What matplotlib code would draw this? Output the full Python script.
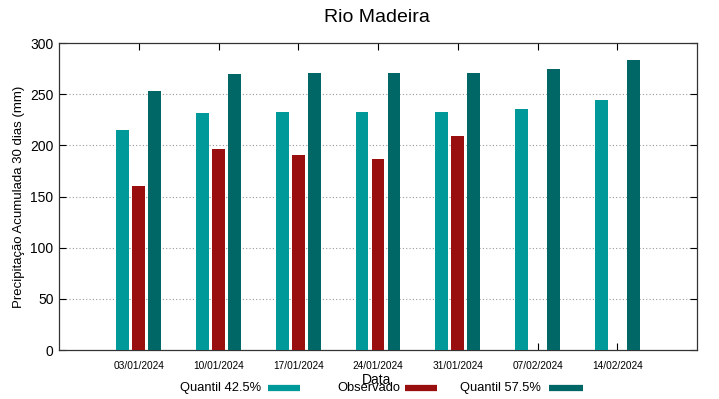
import numpy as np
import matplotlib.pyplot as plt
from matplotlib.lines import Line2D

plt.rcParams['font.family'] = ['Liberation Sans', 'DejaVu Sans']

# weekly dates and 30-day accumulated precipitation (mm)
datas = ["03/01/2024", "10/01/2024", "17/01/2024", "24/01/2024",
         "31/01/2024", "07/02/2024", "14/02/2024"]
quantil_425 = [215, 232, 233, 233, 233, 236, 244]
observado = [160, 196, 191, 187, 209, np.nan, np.nan]
quantil_575 = [253, 270, 271, 271, 271, 275, 283]
series_names = ["Quantil 42.5%", "Observado", "Quantil 57.5%"]

c_q42 = "#009999"
c_obs = "#990f0f"
c_q57 = "#006666"

W, H = 719, 399
fig = plt.figure(figsize=(W / 100, H / 100), dpi=100)
ax = fig.add_axes([0.0821, 0.1228, 0.8873, 0.7694])

x = np.arange(len(datas))
w = 0.16
ax.bar(x - 0.2, quantil_425, w, color=c_q42, zorder=3)
ax.bar(x, observado, w, color=c_obs, zorder=3)
ax.bar(x + 0.2, quantil_575, w, color=c_q57, zorder=3)

ax.set_xlim(-1, 7)
ax.set_ylim(0, 300)
ax.set_yticks(range(0, 301, 50))
ax.set_xticks(x)
ax.set_xticklabels(datas, fontsize=7.3)
ax.tick_params(axis='y', labelsize=10, direction='in', right=True, length=5, pad=4)
ax.tick_params(axis='x', direction='in', top=True, length=5, pad=8)
for yv in range(50, 300, 50):
    ax.axhline(yv, color='#999999', lw=0.8, ls=(0, (1, 2)), zorder=1)
for s in ax.spines.values():
    s.set_linewidth(0.9)
    s.set_color('#333333')

ax.set_ylabel("Precipitação Acumulada 30 dias (mm)", fontsize=9.5, labelpad=4)
fig.text(0.524, 0.038, "Data", ha='center', fontsize=10)
fig.text(0.524, 0.955, "Rio Madeira", ha='center', va='center', fontsize=14)

# gnuplot-like key: text right-aligned, then the colour sample
text_right = [261, 400, 541]
sample_span = [(268, 300), (405, 437), (549, 583)]
ky = 1 - 388 / H
for name, c, tr, (s0, s1) in zip(series_names, (c_q42, c_obs, c_q57), text_right, sample_span):
    fig.text(tr / W, ky, name, ha='right', va='center', fontsize=9.3)
    fig.add_artist(Line2D([s0 / W, s1 / W], [ky, ky], color=c, lw=4.5,
                          transform=fig.transFigure, solid_capstyle='butt'))

fig.savefig("out.png", dpi=100)
